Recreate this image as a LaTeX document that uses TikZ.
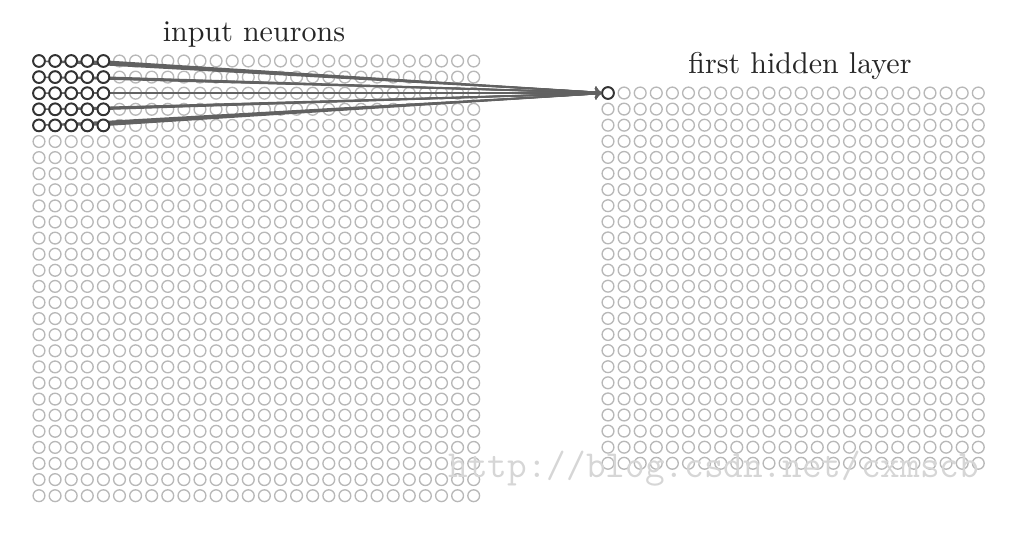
\documentclass[tikz,border=0pt]{standalone}
\usepackage{fontspec}
\usepackage{tikz}
\usetikzlibrary{
    arrows,
    positioning
}

\begin{document}
\begin{tikzpicture}[x=0.117mm, y=-0.117mm,
        neuron/.style={circle, draw=black!28, line width=0.45pt, minimum size=1.38mm, inner sep=0pt},
        active/.style={circle, draw=black!80, fill=white, line width=0.65pt, minimum size=1.38mm, inner sep=0pt},
        link/.style={draw=black!62, line width=0.5pt}]
                        \useasboundingbox (0, 0) rectangle (1017, 536);
                        % input neurons, 28 x 28
                        \foreach \r in {0,...,27}
                            \foreach \c in {0,...,27}
                                \node[neuron] (in-\r-\c) at ({39 + 16.1*\c}, {61 + 16.1*\r}) {};
                        % first hidden layer, 24 x 24
                        \foreach \r in {0,...,23}
                            \foreach \c in {0,...,23}
                                \node[neuron] (hid-\r-\c) at ({608 + 16.1*\c}, {93 + 16.1*\r}) {};
                        \node[active] (out) at (hid-0-0) {};
                        % local receptive field
                        \foreach \r in {0,...,4}
                            \foreach \c in {0,...,4}
                                \draw[link] (in-\r-\c) edge[->] (out);
                        \foreach \r in {0,...,4}
                            \foreach \c in {0,...,4}
                                \node[active] (field-\r-\c) at (in-\r-\c) {};
                        \node[anchor=base, text=black!85] (inlabel) at (254, 41) {input neurons};
                        \node[anchor=base, text=black!85] (hidlabel) at (800, 73) {first hidden layer};
                        \node[anchor=base west, text=black!16, inner sep=0pt] (mark) at (448, 477)
                            {\ttfamily\fontsize{12.7}{15}\selectfont http://blog.csdn.net/cxmscb};
                    \end{tikzpicture}
\end{document}
